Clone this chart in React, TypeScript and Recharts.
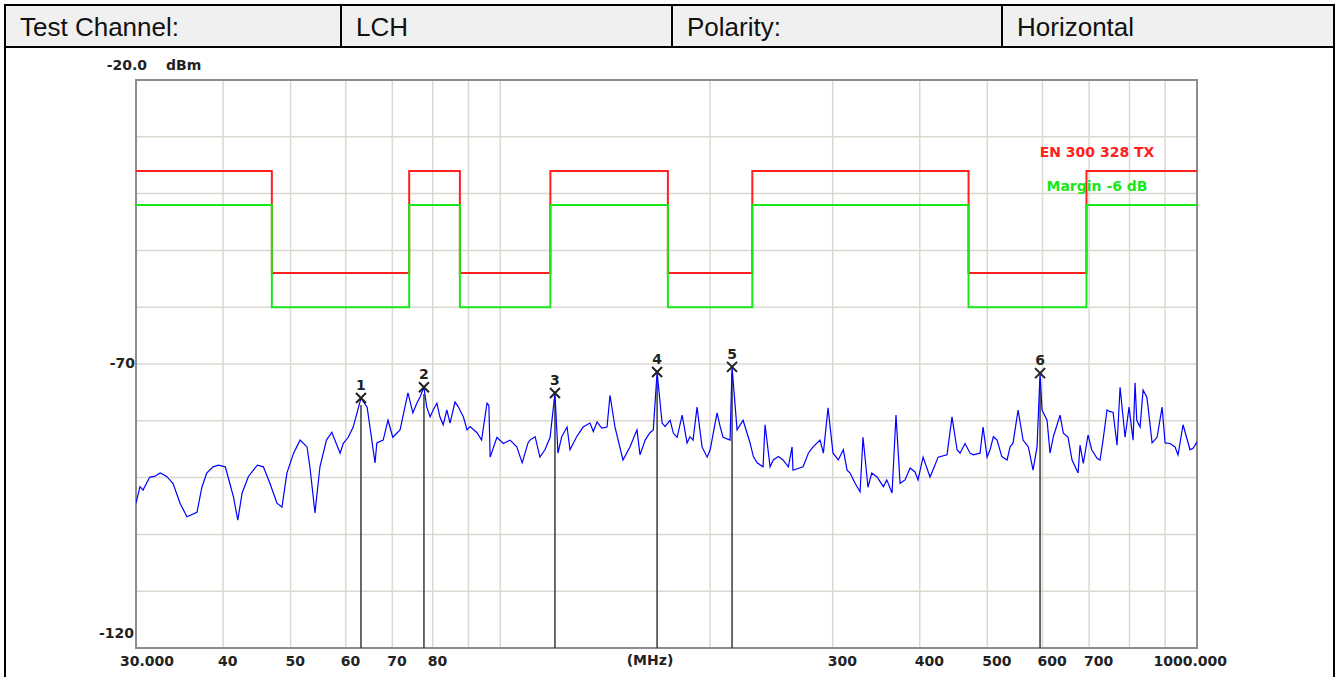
import {
  ComposedChart,
  Line,
  XAxis,
  YAxis,
  CartesianGrid,
  ReferenceArea,
  ReferenceLine,
} from "recharts";

// header row of the report table
const HEADER_CELLS = ["Test Channel:", "LCH", "Polarity:", "Horizontal"];

// measured spectrum, [MHz, dBm]
const TRACE: [number, number][] = [
  [30.0, -94.5], [30.4, -91.6], [30.7, -92.2], [31.4, -89.9], [31.9, -89.8],
  [32.5, -89.2], [33.2, -89.8], [33.9, -91.0], [34.7, -94.5], [35.5, -96.9],
  [36.7, -96.1], [37.3, -91.7], [37.9, -89.2], [38.7, -88.1], [39.4, -87.8],
  [40.3, -88.1], [40.9, -91.0], [41.4, -93.4], [42.0, -97.5], [42.6, -92.7],
  [43.5, -89.8], [44.8, -87.8], [45.7, -88.1], [46.7, -91.0], [47.8, -94.5],
  [48.6, -95.2], [49.4, -89.2], [50.5, -85.7], [51.6, -83.4], [52.8, -84.6],
  [53.3, -88.1], [54.2, -96.2], [55.1, -88.1], [56.3, -83.4], [57.3, -82.0],
  [58.9, -85.7], [59.5, -84.0], [60.5, -82.9], [61.5, -81.1], [63.1, -76.0],
  [64.4, -77.6], [66.1, -87.4], [66.5, -83.9], [67.9, -83.4], [69.0, -79.9],
  [70.1, -82.9], [71.8, -81.6], [73.7, -75.1], [74.9, -78.6], [75.9, -76.9],
  [76.7, -75.8], [77.7, -74.1], [78.4, -77.5], [79.3, -79.3], [80.1, -78.1],
  [81.1, -76.9], [81.9, -79.3], [82.8, -80.7], [83.8, -78.1], [84.7, -80.4],
  [86.1, -76.7], [87.0, -77.5], [88.5, -79.3], [89.6, -81.6], [90.5, -81.0],
  [92.6, -82.1], [94.0, -83.4], [95.7, -76.9], [96.3, -77.3], [96.7, -86.4],
  [98.9, -82.9], [101.0, -84.0], [103.3, -83.4], [105.6, -84.6], [107.5, -87.4],
  [109.6, -83.9], [110.3, -83.4], [112.2, -82.8], [114.0, -86.4], [115.9, -85.1],
  [117.9, -82.9], [118.5, -80.4], [119.8, -75.1], [121.0, -85.7], [122.5, -82.8],
  [124.7, -81.1], [125.9, -85.1], [128.7, -82.8], [131.5, -81.1], [134.5, -80.4],
  [136.0, -81.9], [137.7, -80.2], [139.8, -81.3], [142.3, -81.1], [143.7, -75.5],
  [146.1, -81.1], [150.0, -86.9], [153.5, -84.6], [157.1, -81.6], [158.7, -86.0],
  [161.4, -83.4], [164.0, -82.1], [165.8, -81.6], [167.9, -71.4], [170.7, -80.4],
  [172.4, -81.0], [175.3, -79.9], [177.2, -82.2], [179.4, -82.9], [182.4, -79.0],
  [185.4, -83.9], [187.2, -82.8], [189.1, -83.4], [191.6, -77.6], [194.8, -84.6],
  [198.1, -86.4], [200.1, -85.1], [204.7, -78.6], [206.8, -81.0], [208.8, -82.9],
  [213.7, -83.4], [215.1, -70.5], [218.7, -81.6], [223.1, -79.9], [228.3, -83.9],
  [230.8, -86.3], [233.7, -87.4], [238.3, -88.1], [239.9, -80.7], [243.9, -88.1],
  [246.5, -86.9], [250.7, -86.3], [254.6, -86.9], [259.1, -88.1], [262.3, -84.6],
  [263.1, -88.7], [272.0, -88.1], [276.8, -85.7], [281.1, -84.6], [287.7, -83.4],
  [290.9, -85.7], [295.4, -77.7], [300.3, -85.7], [305.6, -86.9], [310.7, -85.1],
  [314.6, -88.7], [317.7, -89.2], [323.0, -91.0], [328.4, -92.5], [331.6, -82.9],
  [337.1, -91.7], [341.3, -89.2], [347.3, -89.9], [354.7, -91.6], [358.7, -90.4],
  [365.0, -92.7], [369.8, -79.0], [374.8, -91.0], [381.0, -90.4], [387.4, -88.3],
  [393.8, -89.0], [397.7, -90.4], [404.4, -86.4], [413.8, -89.9], [420.7, -87.8],
  [424.9, -86.4], [437.7, -86.0], [445.0, -79.3], [452.5, -85.1], [457.0, -85.7],
  [464.6, -84.0], [472.3, -85.7], [477.5, -86.0], [488.2, -85.7], [493.1, -81.1],
  [499.7, -86.4], [504.6, -85.1], [510.2, -82.8], [516.5, -83.4], [524.6, -86.3],
  [533.8, -86.9], [539.1, -84.6], [544.5, -83.9], [553.6, -78.1], [562.8, -83.4],
  [572.7, -84.6], [581.7, -88.7], [589.4, -84.6], [595.3, -71.6], [599.2, -78.1],
  [609.2, -79.9], [615.3, -85.7], [622.0, -82.8], [636.0, -79.0], [642.9, -82.2],
  [653.0, -82.9], [661.7, -86.9], [675.0, -89.2], [679.4, -84.3], [686.8, -87.5],
  [697.6, -82.5], [706.2, -85.1], [718.7, -86.6], [725.8, -86.9], [733.1, -83.4],
  [742.8, -78.1], [750.2, -78.4], [757.7, -78.5], [767.8, -84.3], [775.5, -74.1],
  [788.4, -82.9], [798.9, -77.6], [809.6, -83.4], [814.9, -73.3], [819.5, -79.9],
  [828.5, -81.1], [836.8, -74.6], [847.1, -75.8], [850.7, -77.6], [862.1, -83.9],
  [876.4, -82.9], [891.0, -77.6], [899.9, -83.9], [914.8, -84.0], [930.0, -84.6],
  [939.3, -86.0], [954.9, -80.7], [977.2, -85.1], [987.9, -84.8], [1000.0, -83.7],
];

// EN 300 328 TX limit, stepped: level holds from each frequency to the next
const LIMIT_MHZ = [30, 47, 74, 87.5, 118, 174, 230, 470, 694, 1000];
const LIMIT_DBM = [-36, -54, -36, -54, -36, -54, -36, -54, -36, -36];
const MARGIN_DB = -6;

// peak markers
const MARKER_NO = [1, 2, 3, 4, 5, 6];
const MARKER_MHZ = [63.1, 77.7, 119.8, 167.9, 215.1, 595.3];
const MARKER_DBM = [-76.0, -74.1, -75.1, -71.4, -70.5, -71.6];

const X_TICKS = [30, 40, 50, 60, 70, 80, 90, 100, 200, 300, 400, 500, 600, 700, 800, 900, 1000];
const X_LABELS: Record<number, string> = {
  30: "30.000", 40: "40", 50: "50", 60: "60", 70: "70", 80: "80",
  300: "300", 400: "400", 500: "500", 600: "600", 700: "700", 1000: "1000.000",
};
const Y_TICKS = [-120, -110, -100, -90, -80, -70, -60, -50, -40, -30, -20];

const traceData = TRACE.map(([f, v]) => ({ f, v }));
const limitData = LIMIT_MHZ.map((f, i) => ({ f, v: LIMIT_DBM[i] }));
const marginData = LIMIT_MHZ.map((f, i) => ({ f, v: LIMIT_DBM[i] + MARGIN_DB }));
const markerData = MARKER_NO.map((n, i) => ({ n, f: MARKER_MHZ[i], v: MARKER_DBM[i] }));

const LABEL_FONT = "'DejaVu Sans', Verdana, sans-serif";
const GRID = "#dcd8d0";

const XTick = (props: any) => {
  const { x, y, payload } = props;
  const label = X_LABELS[payload.value];
  if (!label) return null;
  let anchor = "start";
  let dx = -5;
  if (payload.value === 30) dx = -16;
  if (payload.value === 1000) {
    anchor = "end";
    dx = 30;
  }
  return (
    <text x={x + dx} y={y + 18} textAnchor={anchor} fontFamily={LABEL_FONT} fontWeight="bold" fontSize={14} fill="#222">
      {label}
    </text>
  );
};

const YTick = (props: any) => {
  const { x, y, payload } = props;
  const common = { fontFamily: LABEL_FONT, fontWeight: "bold" as const, fontSize: 14, fill: "#222" };
  if (payload.value === -20) {
    return (
      <g>
        <text x={x + 11} y={y - 10} textAnchor="end" {...common}>-20.0</text>
        <text x={x + 30} y={y - 10} textAnchor="start" {...common}>dBm</text>
      </g>
    );
  }
  if (payload.value === -70) {
    return <text x={x - 1} y={y + 4} textAnchor="end" {...common}>-70</text>;
  }
  if (payload.value === -120) {
    return <text x={x - 2} y={y - 10} textAnchor="end" {...common}>-120</text>;
  }
  return null;
};

const MarkerDot = (props: any) => {
  const { cx, cy, payload } = props;
  if (cx == null || cy == null) return null;
  return (
    <g key={`m-${payload.n}`}>
      <path
        d={`M${cx - 5},${cy - 5}L${cx + 5},${cy + 5}M${cx + 5},${cy - 5}L${cx - 5},${cy + 5}`}
        stroke="#222"
        strokeWidth={2}
      />
      <text x={cx} y={cy - 8} textAnchor="middle" fontFamily={LABEL_FONT} fontWeight="bold" fontSize={14} fill="#222">
        {payload.n}
      </text>
    </g>
  );
};

const cellLefts = [6, 342, 673, 1003];
const cellWidths = [334, 329, 328, 330];

export default function App() {
  return (
    <div style={{ position: "absolute", left: 0, top: 0, width: 1338, height: 677, background: "#fff", overflow: "hidden" }}>
      <div style={{ position: "absolute", left: 0, top: 0 }}>
        <ComposedChart width={1338} height={677} margin={{ top: 80, right: 141, bottom: 4, left: 76 }}>
          <CartesianGrid stroke={GRID} strokeWidth={1.5} />
          <XAxis
            dataKey="f"
            type="number"
            scale="log"
            domain={[30, 1000]}
            ticks={X_TICKS}
            allowDataOverflow
            axisLine={false}
            tickLine={false}
            tickSize={0}
            tickMargin={0}
            height={25}
            interval={0}
            tick={<XTick />}
          />
          <YAxis
            type="number"
            domain={[-120, -20]}
            ticks={Y_TICKS}
            allowDataOverflow
            axisLine={false}
            tickLine={false}
            tickSize={0}
            tickMargin={0}
            width={60}
            interval={0}
            tick={<YTick />}
          />
          <ReferenceArea x1={30} x2={1000} y1={-120} y2={-20} fill="none" stroke="#8c8c8c" strokeWidth={2} />
          {markerData.map((m) => (
            <ReferenceLine
              key={m.n}
              segment={[{ x: m.f, y: m.v - 1.2 }, { x: m.f, y: -120 }]}
              stroke="#3a3a3a"
              strokeWidth={1.5}
            />
          ))}
          <Line data={limitData} dataKey="v" type="stepAfter" stroke="#ff2020" strokeWidth={2} dot={false} isAnimationActive={false} />
          <Line data={marginData} dataKey="v" type="stepAfter" stroke="#18e818" strokeWidth={2} dot={false} isAnimationActive={false} />
          <Line data={traceData} dataKey="v" type="linear" stroke="#0000ff" strokeWidth={1.2} dot={false} isAnimationActive={false} />
          <Line data={markerData} dataKey="v" stroke="none" dot={<MarkerDot />} activeDot={false} isAnimationActive={false} />
        </ComposedChart>
      </div>

      {/* legend and unit texts */}
      <div style={{ position: "absolute", left: 997, top: 144, width: 200, textAlign: "center", font: `bold 14px ${LABEL_FONT}`, color: "#ff2020" }}>
        EN 300 328 TX
      </div>
      <div style={{ position: "absolute", left: 997, top: 178, width: 200, textAlign: "center", font: `bold 14px ${LABEL_FONT}`, color: "#18e818" }}>
        Margin -6 dB
      </div>
      <div style={{ position: "absolute", left: 600, top: 652, width: 100, textAlign: "center", font: `bold 14px ${LABEL_FONT}`, color: "#222" }}>
        (MHz)
      </div>

      {/* report table frame */}
      <div style={{ position: "absolute", left: 4, top: 4, width: 1331, height: 44, background: "#000" }} />
      {HEADER_CELLS.map((t, i) => (
        <div
          key={t}
          style={{
            position: "absolute",
            left: cellLefts[i],
            top: 6,
            width: cellWidths[i],
            height: 40,
            background: "#f0f0f0",
            fontFamily: "'Liberation Sans', Arial, sans-serif",
            fontSize: 26,
            lineHeight: "42px",
            color: "#111",
            paddingLeft: 14,
            boxSizing: "border-box",
            whiteSpace: "nowrap",
          }}
        >
          {t}
        </div>
      ))}
      <div style={{ position: "absolute", left: 4, top: 48, width: 2, height: 640, background: "#000" }} />
      <div style={{ position: "absolute", left: 1333, top: 48, width: 2, height: 640, background: "#000" }} />
    </div>
  );
}
